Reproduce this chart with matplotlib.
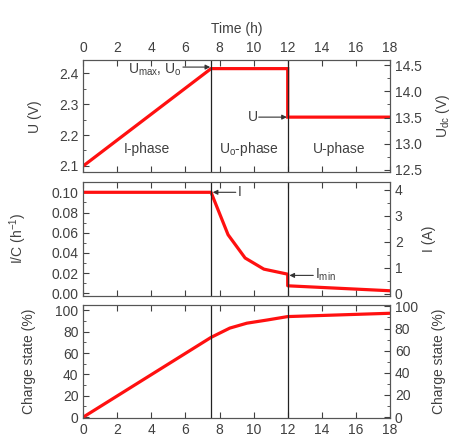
import numpy as np
import matplotlib
matplotlib.use("Agg")
import matplotlib.pyplot as plt
from matplotlib.ticker import MultipleLocator, FormatStrFormatter

plt.rcParams['font.family'] = ['Liberation Sans', 'DejaVu Sans']
plt.rcParams['font.size'] = 10
plt.rcParams['mathtext.default'] = 'regular'
plt.rcParams['text.color'] = '#404040'
plt.rcParams['axes.labelcolor'] = '#404040'
plt.rcParams['xtick.color'] = '#404040'
plt.rcParams['ytick.color'] = '#404040'
plt.rcParams['axes.edgecolor'] = '#555555'

# voltage per cell (V)
t_volt = [0, 7.5, 12, 12, 18]
u_volt = [2.1, 2.415, 2.415, 2.258, 2.258]

# relative current I/C (1/h)
t_curr = [0, 7.5, 8.5, 9.5, 10.6, 12, 12, 18]
i_curr = [0.1, 0.1, 0.058, 0.035, 0.024, 0.019, 0.0075, 0.0026]

# charge state (%)
t_soc = [0, 7.5, 8.6, 9.6, 10.8, 12, 18]
soc = [0, 74.7, 83.4, 88, 91, 94.2, 97.3]

phase_ends = [7.5, 12]
xticks = np.arange(0, 19, 2)

red = '#ff1010'
fig = plt.figure(figsize=(4.55, 4.41), dpi=100)
left, width = 0.183, 0.674
ax1 = fig.add_axes([left, 0.609, width, 0.255])
ax2 = fig.add_axes([left, 0.329, width, 0.259])
ax3 = fig.add_axes([left, 0.052, width, 0.257])

arrow = dict(arrowstyle='-|>', color='#333333', lw=0.8,
             mutation_scale=7, shrinkA=0, shrinkB=0)


def style(ax, rx, lmaj, lmin, rmaj, rmin):
    ax.set_xlim(0, 18)
    ax.set_xticks(xticks)
    ax.yaxis.set_major_locator(MultipleLocator(lmaj))
    ax.yaxis.set_minor_locator(MultipleLocator(lmin))
    ax.tick_params(which='both', direction='in', top=True, right=False)
    ax.tick_params(which='major', length=4)
    ax.tick_params(which='minor', length=2.5)
    rx.yaxis.set_major_locator(MultipleLocator(rmaj))
    rx.yaxis.set_minor_locator(MultipleLocator(rmin))
    rx.tick_params(which='both', direction='in')
    rx.tick_params(which='major', length=4)
    rx.tick_params(which='minor', length=2.5)
    for x in phase_ends:
        ax.axvline(x, color='#222222', lw=0.9)


# top panel: voltage
r1 = ax1.twinx()
ax1.plot(t_volt, u_volt, color=red, lw=2.3, solid_joinstyle='miter')
ax1.set_ylim(2.079, 2.443)
r1.set_ylim(12.45, 14.6)
style(ax1, r1, 0.1, 0.05, 0.5, 0.25)
ax1.xaxis.tick_top()
ax1.tick_params(which='both', bottom=True)
ax1.xaxis.set_label_position('top')
ax1.set_xlabel('Time (h)', labelpad=6)
ax1.set_ylabel('U (V)', labelpad=12)
r1.set_ylabel('U$_{dc}$ (V)', rotation=90, labelpad=9)
ax1.yaxis.set_major_formatter(FormatStrFormatter('%.1f'))
r1.yaxis.set_major_formatter(FormatStrFormatter('%.1f'))
ax1.annotate('', xy=(7.45, 2.42), xytext=(5.85, 2.42), arrowprops=arrow)
ax1.text(5.8, 2.412, 'U$_{max}$, U$_o$', ha='right', va='center')
ax1.annotate('', xy=(11.95, 2.258), xytext=(10.3, 2.258), arrowprops=arrow)
ax1.text(10.25, 2.258, 'U', ha='right', va='center')
ax1.text(3.75, 2.155, 'I-phase', ha='center', va='center')
ax1.text(9.75, 2.155, 'U$_o$-phase', ha='center', va='center')
ax1.text(15.0, 2.155, 'U-phase', ha='center', va='center')

# middle panel: current
r2 = ax2.twinx()
ax2.plot(t_curr, i_curr, color=red, lw=2.3)
ax2.set_ylim(-0.0025, 0.1105)
r2.set_ylim(-0.09, 4.32)
style(ax2, r2, 0.02, 0.01, 1, 0.5)
ax2.tick_params(labelbottom=False)
ax2.yaxis.set_major_formatter(FormatStrFormatter('%.2f'))
ax2.set_ylabel('I/C (h$^{-1}$)', labelpad=16)
r2.set_ylabel('I (A)', rotation=90, labelpad=14)
ax2.annotate('', xy=(7.6, 0.1), xytext=(8.95, 0.1), arrowprops=arrow)
ax2.text(9.05, 0.1, 'I', ha='left', va='center')
ax2.annotate('', xy=(12.1, 0.0178), xytext=(13.5, 0.0178), arrowprops=arrow)
ax2.text(13.6, 0.0185, 'I$_{min}$', ha='left', va='center')

# bottom panel: charge state
r3 = ax3.twinx()
ax3.plot(t_soc, soc, color=red, lw=2.3)
ax3.set_ylim(-0.9, 105.3)
r3.set_ylim(-0.9, 101.5)
style(ax3, r3, 20, 10, 20, 10)
ax3.set_ylabel('Charge state (%)', labelpad=14)
r3.set_ylabel('Charge state (%)', rotation=90, labelpad=10)

fig.savefig('out.png', dpi=100)
